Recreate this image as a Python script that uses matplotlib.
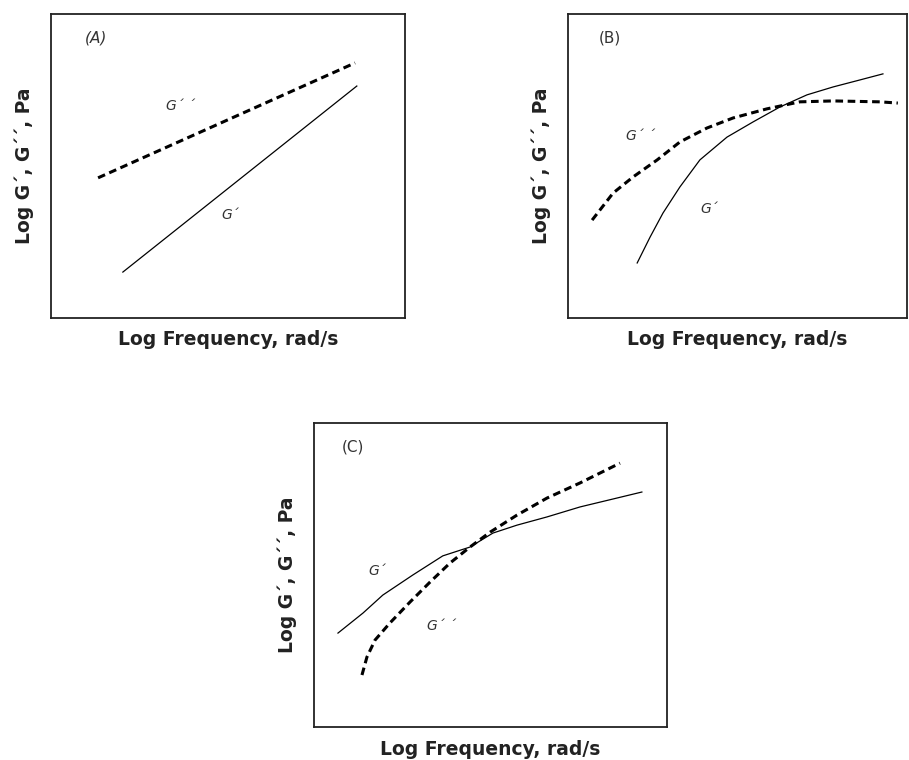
import matplotlib
matplotlib.use("Agg")
import matplotlib.pyplot as plt

# ---- data (arbitrary log units, 0..10 in each panel) ----
# Panel A
a_x_g2 = [1.33, 8.59]
a_y_g2 = [4.61, 8.39]
a_x_g1 = [2.03, 8.64]
a_y_g1 = [1.51, 7.63]

# Panel B
b_x_g2 = [0.71, 1.33, 1.92, 2.63, 3.30, 4.10, 4.87, 5.87, 6.84, 7.82, 9.20, 9.73]
b_y_g2 = [3.22, 4.11, 4.64, 5.20, 5.79, 6.25, 6.58, 6.88, 7.11, 7.14, 7.11, 7.07]
b_x_g1 = [2.04, 2.42, 2.80, 3.30, 3.89, 4.69, 5.46, 6.25, 7.05, 7.82, 8.61, 9.29]
b_y_g1 = [1.81, 2.66, 3.45, 4.31, 5.20, 5.95, 6.45, 6.94, 7.34, 7.60, 7.83, 8.03]

# Panel C
c_x_g1 = [0.68, 1.39, 1.95, 2.80, 3.65, 4.42, 5.07, 5.75, 6.60, 7.54, 8.47, 9.29]
c_y_g1 = [3.09, 3.75, 4.34, 5.00, 5.63, 5.92, 6.38, 6.64, 6.91, 7.24, 7.50, 7.73]
c_x_g2 = [1.36, 1.50, 1.73, 2.15, 2.72, 3.29, 3.85, 4.42, 4.99, 5.75, 6.60, 7.54, 8.67]
c_y_g2 = [1.71, 2.30, 2.86, 3.42, 4.11, 4.77, 5.39, 5.92, 6.41, 6.97, 7.53, 8.03, 8.68]

panel_labels = ["(A)", "(B)", "(C)"]
xlabel = "Log Frequency, rad/s"
ylabel = "Log G\u00b4, G\u00b4\u00b4, Pa"
lab_g1 = "G\u00b4"
lab_g2 = "G\u00b4 \u00b4"

fig = plt.figure(figsize=(9.09, 7.6), dpi=100)
fig.patch.set_facecolor("white")

axA = fig.add_axes([0.0561, 0.5816, 0.3894, 0.400])
axB = fig.add_axes([0.6249, 0.5816, 0.3729, 0.400])
axC = fig.add_axes([0.3454, 0.0434, 0.3883, 0.400])

dash = (0, (2.5, 1.5))
txtcol = "#333333"

def style(ax):
    ax.set_xlim(0, 10)
    ax.set_ylim(0, 10)
    ax.set_xticks([])
    ax.set_yticks([])
    for s in ax.spines.values():
        s.set_linewidth(1.3)
        s.set_color("#222222")
    ax.set_xlabel(xlabel, fontsize=13.5, fontweight="bold", color="#222222",
                  family="DejaVu Sans", labelpad=9)
    ax.set_ylabel(ylabel, fontsize=13.5, fontweight="bold", color="#222222",
                  family="DejaVu Sans", labelpad=12)

for ax in (axA, axB, axC):
    style(ax)

# Panel A
axA.plot(a_x_g2, a_y_g2, color="black", lw=2.2, linestyle=dash)
axA.plot(a_x_g1, a_y_g1, color="black", lw=0.9)
axA.text(0.95, 9.05, panel_labels[0], fontsize=11, style="italic", color=txtcol)
axA.text(3.25, 6.85, lab_g2, fontsize=10, style="italic", color=txtcol)
axA.text(4.8, 3.25, lab_g1, fontsize=10, style="italic", color=txtcol)

# Panel B
axB.plot(b_x_g2, b_y_g2, color="black", lw=2.2, linestyle=dash)
axB.plot(b_x_g1, b_y_g1, color="black", lw=0.9)
axB.text(0.9, 9.05, panel_labels[1], fontsize=11, color=txtcol)
axB.text(1.7, 5.85, lab_g2, fontsize=10, style="italic", color=txtcol)
axB.text(3.9, 3.45, lab_g1, fontsize=10, style="italic", color=txtcol)

# Panel C
axC.plot(c_x_g2, c_y_g2, color="black", lw=2.2, linestyle=dash)
axC.plot(c_x_g1, c_y_g1, color="black", lw=0.9)
axC.text(0.8, 9.05, panel_labels[2], fontsize=11, color=txtcol)
axC.text(1.55, 5.0, lab_g1, fontsize=10, style="italic", color=txtcol)
axC.text(3.2, 3.2, lab_g2, fontsize=10, style="italic", color=txtcol)

fig.savefig("out.png", dpi=100, facecolor="white")
